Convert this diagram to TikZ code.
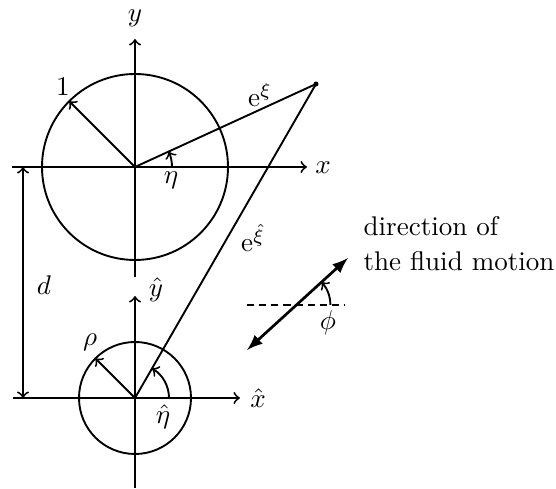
\documentclass[tikz,border=0pt]{standalone}
\usepackage{amsmath,amsfonts,amssymb}
\usepackage{tikz}
\usetikzlibrary{arrows,positioning}

\begin{document}
\begin{tikzpicture}[
  x=0.37pt, y=0.37pt,
  line width=0.7pt,
  every node/.style={inner sep=1pt},
  axis/.style={draw, ->, >=to},
  radius arrow/.style={draw, ->, >=to},
  angle arc/.style={draw, ->, >=to},
  flow/.style={draw, <->, >=latex, line width=1pt},
  ref line/.style={draw, dash pattern=on 2.6pt off 1.9pt}
]
\useasboundingbox (0,0) rectangle (556,489);

% centres of the two circles and the field point
\coordinate (O) at (135,322);
\coordinate (Oh) at (135,91);
\coordinate (P) at (316,405);

% unit circle
\draw (O) circle[radius=93];
\draw[axis] (O) ++(-123,0) -- ++(295,0) coordinate (xend);
\draw[axis] (O) ++(0,-110) -- ++(0,238) coordinate (yend);
\node (xlab) at (323,321) {$x$};
\node (ylab) at (135,471) {$y$};
\draw[radius arrow] (O) -- ++(135:93);
\node (one) at (63,402) {$1$};
\draw (O) -- (P);
\fill (P) circle[radius=2.5];
\node (exi) at (260,394) {$\mathrm{e}^{\xi}$};
\draw[angle arc] (O) ++(37,0) arc[start angle=0, end angle=24.6, radius=37];
\node (eta) at (171,309) {$\eta$};

% small circle
\draw (Oh) circle[radius=56];
\draw[axis] (Oh) ++(-122,0) -- ++(227,0) coordinate (xhend);
\draw[axis] (Oh) ++(0,-90) -- ++(0,192) coordinate (yhend);
\node (xhlab) at (258,91) {$\hat{x}$};
\node (yhlab) at (156,199) {$\hat{y}$};
\draw[radius arrow] (Oh) -- ++(135:56);
\node (rho) at (90,147) {$\rho$};
\draw (Oh) -- (P);
\node (exih) at (253,251) {$\mathrm{e}^{\hat{\xi}}$};
\draw[angle arc] (Oh) ++(34,0) arc[start angle=0, end angle=60, radius=34];
\node (etah) at (163,72) {$\hat{\eta}$};

% distance between the centres
\coordinate (da) at (23,322);
\coordinate (db) at (23,91);
\draw[<->, >=to] (da) -- (db);
\node (d) at (44,204) {$d$};

% direction of the flow
\coordinate (fa) at (247,139);
\coordinate (fb) at (348,231);
\coordinate (C) at (296.4,184);
\draw[flow] (fa) -- (fb);
\draw[ref line] (247,184) -- (345,184);
\draw[angle arc] (C) ++(34,0) arc[start angle=0, end angle=42.3, radius=34];
\node (phi) at (328,166) {$\phi$};
\node[anchor=west, align=left] (flowtext) at (360,245) {direction of\\[1pt]the fluid motion};
\end{tikzpicture}
\end{document}
